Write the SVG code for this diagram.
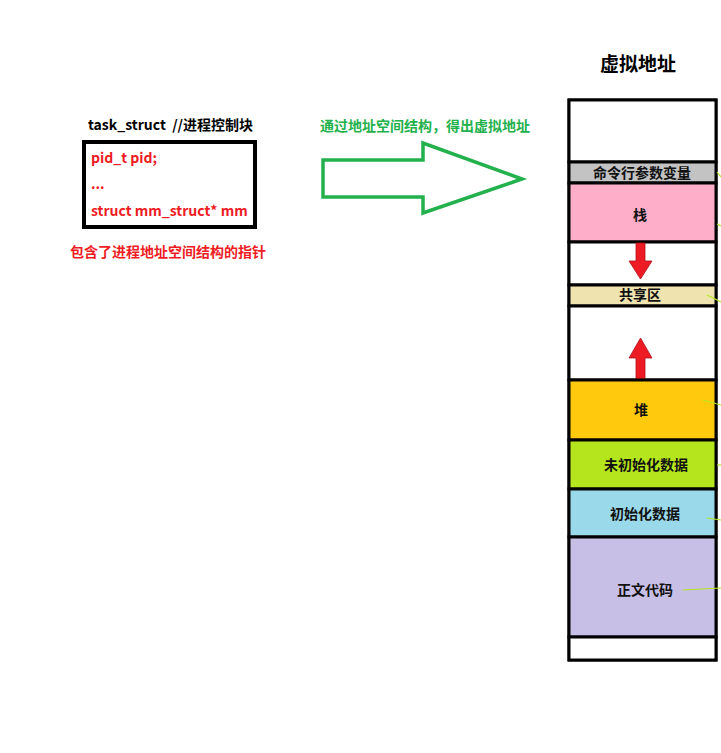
<svg xmlns="http://www.w3.org/2000/svg" width="721" height="753" viewBox="0 0 721 753">
<style>
  text { font-family: "Noto Sans CJK SC", "Liberation Sans", sans-serif; font-weight: bold; }
  .seg { stroke: #000; stroke-width: 3; }
  .lbl { font-size: 14px; fill: #111; text-anchor: middle; }
  .red { fill: #ee1c24; font-size: 14px; }
  .redarrow { fill: #ed1c24; stroke: #b0101a; stroke-width: 0.8; }
  .stub { stroke: #b5e61d; stroke-width: 1.2; fill: none; }
</style>
<rect width="721" height="753" fill="#fff"/>

<g id="task_struct">
  <text x="88" y="130" font-size="14" fill="#000">task_struct&#160; //进程控制块</text>
  <rect x="84" y="142" width="171" height="85" fill="#fff" stroke="#000" stroke-width="4"/>
  <text x="91" y="163" class="red">pid_t pid;</text>
  <text x="91" y="189" class="red">...</text>
  <text x="91" y="216" class="red">struct mm_struct* mm</text>
</g>

<g id="pointer-note">
  <text x="70" y="257" class="red">包含了进程地址空间结构的指针</text>
</g>

<g id="green-note">
  <text x="320" y="131" font-size="14" fill="#22b14c">通过地址空间结构，得出虚拟地址</text>
</g>

<g id="connectors">
  <polygon points="323,160 423,160 423,143 522,179 423,213 423,197 323,197" fill="#fff" stroke="#22b14c" stroke-width="3.5" stroke-linejoin="miter"/>
</g>

<g id="vaddr-title">
  <text x="638" y="71" font-size="19" fill="#000" text-anchor="middle">虚拟地址</text>
</g>

<g id="memory">
  <rect x="569" y="100" width="147" height="560" fill="#fff" stroke="#000" stroke-width="3"/>
  <g id="seg-top"><rect class="seg" x="569" y="100" width="147" height="62" fill="#fff"/></g>
  <g id="seg-args"><rect class="seg" x="569" y="162" width="147" height="21" fill="#c3c3c3"/>
    <text class="lbl" x="642" y="178">命令行参数变量</text></g>
  <g id="seg-stack"><rect class="seg" x="569" y="183" width="147" height="59" fill="#ffaec9"/>
    <text class="lbl" x="640" y="220">栈</text></g>
  <g id="seg-gap1"><rect class="seg" x="569" y="242" width="147" height="43" fill="#fff"/>
    <polygon class="redarrow" points="636,243 645,243 645,261 652,261 640.5,279 629,261 636,261"/></g>
  <g id="seg-shared"><rect class="seg" x="569" y="285" width="147" height="21" fill="#efe4b0"/>
    <text class="lbl" x="640" y="300">共享区</text></g>
  <g id="seg-gap2"><rect class="seg" x="569" y="306" width="147" height="74" fill="#fff"/>
    <polygon class="redarrow" points="636,379 645,379 645,358 652,358 640.5,338 629,358 636,358"/></g>
  <g id="seg-heap"><rect class="seg" x="569" y="380" width="147" height="60" fill="#ffc90e"/>
    <text class="lbl" x="641" y="415">堆</text></g>
  <g id="seg-bss"><rect class="seg" x="569" y="440" width="147" height="49" fill="#b5e61d"/>
    <text class="lbl" x="646" y="470">未初始化数据</text></g>
  <g id="seg-data"><rect class="seg" x="569" y="489" width="147" height="48" fill="#99d9ea"/>
    <text class="lbl" x="645" y="519">初始化数据</text></g>
  <g id="seg-text"><rect class="seg" x="569" y="537" width="147" height="100" fill="#c8bfe7"/>
    <text class="lbl" x="645" y="595">正文代码</text></g>
  <g id="seg-bottom"><rect class="seg" x="569" y="637" width="147" height="23" fill="#fff"/></g>
</g>

<g id="stubs">
  <line class="stub" x1="717" y1="172" x2="721" y2="177"/>
  <line class="stub" x1="717" y1="224" x2="721" y2="226"/>
  <line class="stub" x1="707" y1="295" x2="721" y2="302"/>
  <line class="stub" x1="703" y1="400" x2="721" y2="405"/>
  <line class="stub" x1="717" y1="465" x2="721" y2="465"/>
  <line class="stub" x1="707" y1="518" x2="721" y2="520"/>
  <line class="stub" x1="683" y1="590" x2="721" y2="588"/>
</g>
</svg>
